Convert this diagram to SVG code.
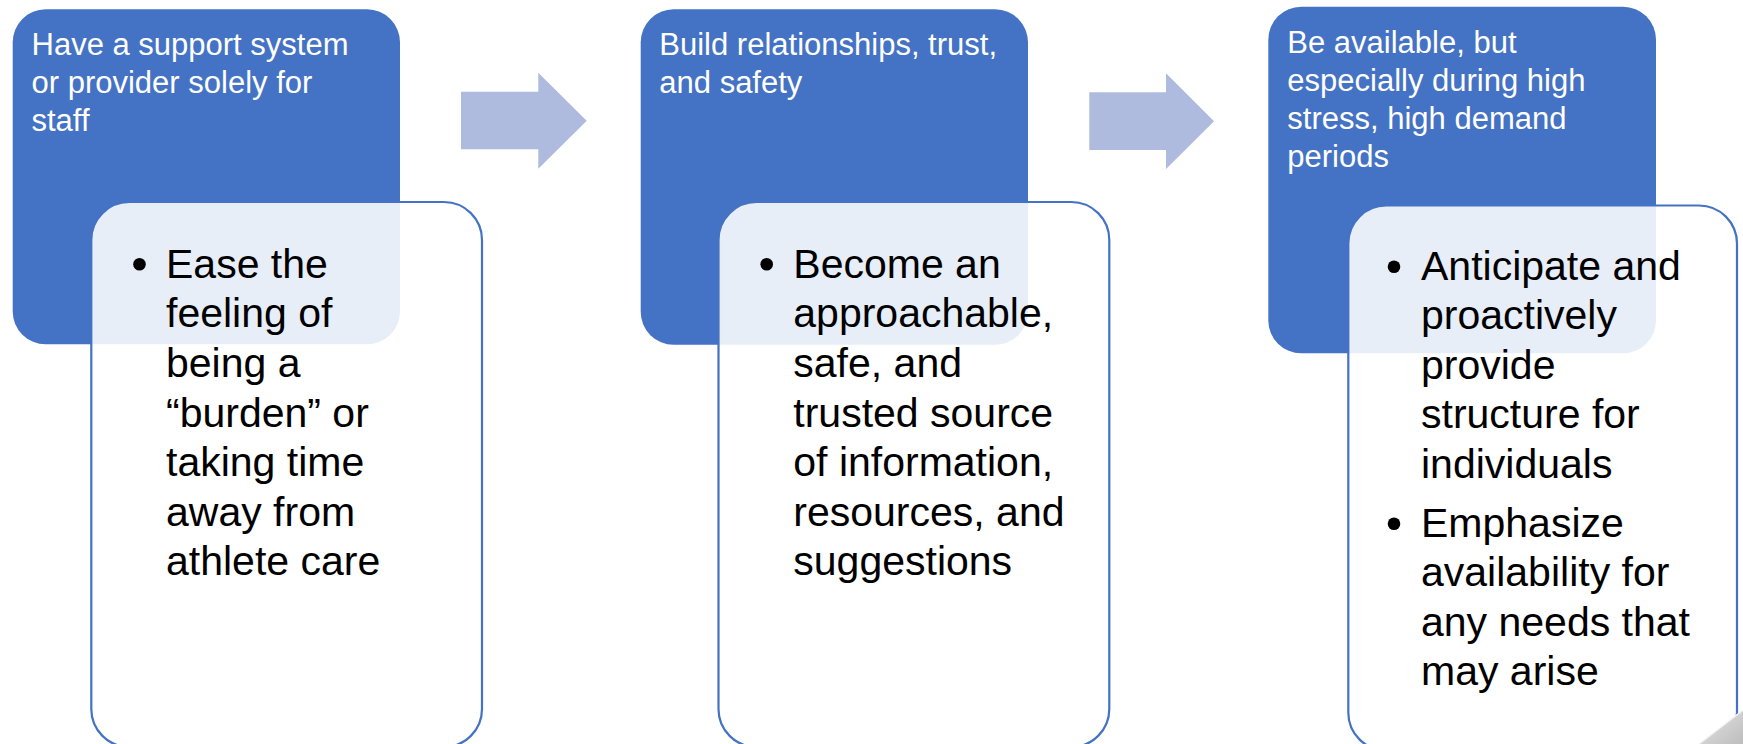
<svg xmlns="http://www.w3.org/2000/svg" width="1743" height="744" viewBox="0 0 1743 744">
<defs>
<style>
.hdr{fill:#4472C4}
.det{fill:#fff;fill-opacity:.88;stroke:#4472C4;stroke-width:2.2}
.ht{font-family:"Liberation Sans",Arial,sans-serif;font-size:31px;fill:#fff}
.bt{font-family:"Liberation Sans",Arial,sans-serif;font-size:41px;fill:#000}
.dot{fill:#000}
.arr{fill:#AEBBDF}
</style>
<linearGradient id="curl" x1="0" y1="0" x2="1" y2="1">
<stop offset="0" stop-color="#e6e6e6"/>
<stop offset="1" stop-color="#bdbdbd"/>
</linearGradient>
</defs>
<rect width="1743" height="744" fill="#fff"/>

<g id="node1">
<g id="node1-header">
<rect class="hdr" x="12.7" y="9.3" width="387.3" height="335" rx="33"/>
<text class="ht" x="31.5"><tspan x="31.5" y="55">Have a support system</tspan><tspan x="31.5" y="93">or provider solely for</tspan><tspan x="31.5" y="131">staff</tspan></text>
</g>
<g id="node1-detail">
<rect class="det" x="91.3" y="202" width="390.7" height="545" rx="38"/>
<circle class="dot" cx="139.5" cy="264.3" r="6.3"/>
<text class="bt"><tspan x="166" y="277.7">Ease the</tspan><tspan x="166" y="327.3">feeling of</tspan><tspan x="166" y="376.9">being a</tspan><tspan x="166" y="426.5">“burden” or</tspan><tspan x="166" y="476.1">taking time</tspan><tspan x="166" y="525.7">away from</tspan><tspan x="166" y="575.3">athlete care</tspan></text>
</g>
</g>

<g id="node2">
<g id="node2-header">
<rect class="hdr" x="640.7" y="9.3" width="387.3" height="335.5" rx="33"/>
<text class="ht"><tspan x="659.3" y="55">Build relationships, trust,</tspan><tspan x="659.3" y="93">and safety</tspan></text>
</g>
<g id="node2-detail">
<rect class="det" x="718.5" y="202" width="390.8" height="545" rx="38"/>
<circle class="dot" cx="766.7" cy="264.3" r="6.3"/>
<text class="bt"><tspan x="793.3" y="277.7">Become an</tspan><tspan x="793.3" y="327.3">approachable,</tspan><tspan x="793.3" y="376.9">safe, and</tspan><tspan x="793.3" y="426.5">trusted source</tspan><tspan x="793.3" y="476.1">of information,</tspan><tspan x="793.3" y="525.7">resources, and</tspan><tspan x="793.3" y="575.3">suggestions</tspan></text>
</g>
</g>

<g id="node3">
<g id="node3-header">
<rect class="hdr" x="1268.3" y="6.7" width="387.7" height="346.6" rx="33"/>
<text class="ht"><tspan x="1287.3" y="52.7">Be available, but</tspan><tspan x="1287.3" y="90.9">especially during high</tspan><tspan x="1287.3" y="129.1">stress, high demand</tspan><tspan x="1287.3" y="167.3">periods</tspan></text>
</g>
<g id="node3-detail">
<rect class="det" x="1348.3" y="205.5" width="388.7" height="545" rx="38"/>
<circle class="dot" cx="1394" cy="266.7" r="6.3"/>
<circle class="dot" cx="1394" cy="523.7" r="6.3"/>
<text class="bt"><tspan x="1421" y="280">Anticipate and</tspan><tspan x="1421" y="329.4">proactively</tspan><tspan x="1421" y="378.8">provide</tspan><tspan x="1421" y="428.2">structure for</tspan><tspan x="1421" y="477.6">individuals</tspan><tspan x="1421" y="537">Emphasize</tspan><tspan x="1421" y="586.4">availability for</tspan><tspan x="1421" y="635.8">any needs that</tspan><tspan x="1421" y="685.2">may arise</tspan></text>
</g>
</g>

<g id="connectors">
<polygon class="arr" points="461,91.7 538.3,91.7 538.3,72.7 586.7,120.7 538.3,168.7 538.3,149.3 461,149.3"/>
<polygon class="arr" points="1089.3,92.3 1166,92.3 1166,73.3 1214,121.3 1166,169 1166,150 1089.3,150"/>
</g>

<g id="page-curl">
<polygon points="1699,744 1743,710 1743,744" fill="url(#curl)"/>
<line x1="1699" y1="744" x2="1743" y2="710" stroke="#f4f4f4" stroke-width="1.5"/>
</g>
</svg>
